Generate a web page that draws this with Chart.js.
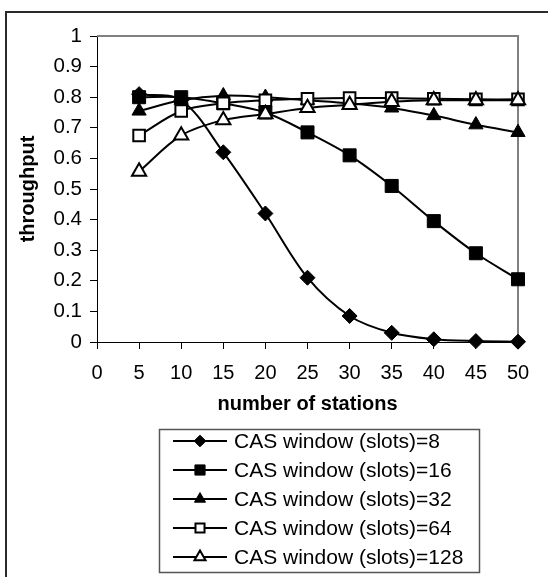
<!DOCTYPE html>
<html><head><meta charset="utf-8">
<script src="https://cdn.jsdelivr.net/npm/chart.js@4/dist/chart.umd.min.js"></script>
<style>html,body{margin:0;padding:0;background:#fff}canvas{display:block}</style>
</head><body>
<canvas id="c" width="548" height="577"></canvas>
<script>
// ---- data ----
const stations = [5, 10, 15, 20, 25, 30, 35, 40, 45, 50];
const seriesLabels = [
  'CAS window (slots)=8',
  'CAS window (slots)=16',
  'CAS window (slots)=32',
  'CAS window (slots)=64',
  'CAS window (slots)=128'
];
const cas8   = [0.81, 0.79, 0.62, 0.42, 0.21, 0.085, 0.03, 0.009, 0.003, 0.001];
const cas16  = [0.80, 0.80, 0.78, 0.75, 0.685, 0.61, 0.51, 0.395, 0.29, 0.205];
const cas32  = [0.755, 0.79, 0.805, 0.80, 0.79, 0.78, 0.765, 0.74, 0.71, 0.685];
const cas64  = [0.675, 0.755, 0.78, 0.79, 0.795, 0.797, 0.797, 0.795, 0.793, 0.793];
const cas128 = [0.557, 0.675, 0.725, 0.745, 0.765, 0.775, 0.785, 0.79, 0.79, 0.79];
const xTickValues = [0, 5, 10, 15, 20, 25, 30, 35, 40, 45, 50];
const yTickValues = [0, 0.1, 0.2, 0.3, 0.4, 0.5, 0.6, 0.7, 0.8, 0.9, 1];
const yTickLabels = ['0', '0.1', '0.2', '0.3', '0.4', '0.5', '0.6', '0.7', '0.8', '0.9', '1'];
const xTitle = 'number of stations';
const yTitle = 'throughput';

// ---- styles ----
const FONT = "'Liberation Sans', Arial, sans-serif";
Chart.defaults.font.family = FONT;
Chart.defaults.color = '#000';

const seriesValues = [cas8, cas16, cas32, cas64, cas128];
const markerStyles = [
  { pointStyle: 'rectRot', radius: 7.5, fill: '#000', bw: 1 },
  { pointStyle: 'rect', radius: 9.2, fill: '#000', bw: 1 },
  { pointStyle: 'triangle', radius: 8.2, fill: '#000', bw: 1 },
  { pointStyle: 'rect', radius: 8.2, fill: '#fff', bw: 2 },
  { pointStyle: 'triangle', radius: 8.2, fill: '#fff', bw: 2 }
];

const datasets = seriesValues.map((vals, i) => ({
  label: seriesLabels[i],
  data: stations.map((x, j) => ({ x: x, y: vals[j] })),
  borderColor: '#000',
  borderWidth: 2,
  tension: 0.33,
  pointStyle: markerStyles[i].pointStyle,
  pointRadius: markerStyles[i].radius,
  pointHoverRadius: markerStyles[i].radius,
  pointBackgroundColor: markerStyles[i].fill,
  pointBorderColor: '#000',
  pointBorderWidth: markerStyles[i].bw,
  clip: false,
  order: seriesValues.length - 1 - i
}));

const framePlugin = {
  id: 'frames',
  beforeDraw(chart) {
    const ctx = chart.ctx;
    ctx.save();
    ctx.fillStyle = '#fff';
    ctx.fillRect(0, 0, chart.width, chart.height);
    ctx.fillStyle = '#2a2a2a';
    ctx.fillRect(5, 11, chart.width - 5, 2);
    ctx.fillRect(5, 11, 2, chart.height - 11);
    ctx.restore();
  },
  beforeDatasetsDraw(chart) {
    const ctx = chart.ctx, a = chart.chartArea;
    ctx.save();
    ctx.strokeStyle = '#808080';
    ctx.lineWidth = 2;
    ctx.beginPath();
    ctx.moveTo(a.left, a.top);
    ctx.lineTo(a.right, a.top);
    ctx.lineTo(a.right, a.bottom);
    ctx.stroke();
    ctx.restore();
  }
};

const legendPlugin = {
  id: 'boxLegend',
  afterDraw(chart) {
    const ctx = chart.ctx;
    ctx.save();
    ctx.strokeStyle = '#555';
    ctx.lineWidth = 1.5;
    ctx.strokeRect(159.5, 429.5, 320, 143);
    chart.data.datasets.forEach((ds, i) => {
      const y = 441 + i * 29;
      ctx.strokeStyle = '#000';
      ctx.lineWidth = 2;
      ctx.beginPath();
      ctx.moveTo(173, y);
      ctx.lineTo(227, y);
      ctx.stroke();
      ctx.fillStyle = ds.pointBackgroundColor;
      ctx.strokeStyle = '#000';
      ctx.lineWidth = ds.pointBorderWidth;
      Chart.helpers.drawPoint(ctx, {
        pointStyle: ds.pointStyle,
        radius: ds.pointRadius * 0.78,
        rotation: 0,
        borderWidth: ds.pointBorderWidth
      }, 200, y);
      ctx.fillStyle = '#000';
      ctx.font = '21px ' + FONT;
      ctx.textBaseline = 'middle';
      ctx.textAlign = 'left';
      ctx.fillText(ds.label, 234, y + 1);
    });
    ctx.restore();
  }
};

new Chart(document.getElementById('c'), {
  type: 'line',
  data: { datasets: datasets },
  plugins: [framePlugin, legendPlugin],
  options: {
    responsive: false,
    animation: false,
    events: [],
    layout: { padding: { top: 36, right: 30, bottom: 155, left: 0 } },
    plugins: { legend: { display: false }, tooltip: { enabled: false } },
    scales: {
      x: {
        type: 'linear',
        min: 0, max: 50,
        afterBuildTicks: s => { s.ticks = xTickValues.map(v => ({ value: v })); },
        afterFit: s => { s.height = 80; },
        ticks: { font: { size: 20 }, color: '#000', padding: 12, maxRotation: 0, autoSkip: false },
        grid: { drawOnChartArea: false, drawTicks: true, tickLength: 7, color: '#000', lineWidth: 1 },
        border: { display: true, color: '#000', width: 1 },
        title: { display: true, text: xTitle, color: '#000', font: { size: 20, weight: 'bold' }, padding: { top: 0, bottom: 6 } }
      },
      y: {
        type: 'linear',
        min: 0, max: 1,
        afterBuildTicks: s => { s.ticks = yTickValues.map(v => ({ value: v })); },
        afterFit: s => { s.width = 97; },
        ticks: { font: { size: 20.5 }, color: '#000', padding: 8, autoSkip: false,
                 callback: (v, i) => yTickLabels[i] },
        grid: { drawOnChartArea: false, drawTicks: true, tickLength: 7, color: '#000', lineWidth: 1 },
        border: { display: true, color: '#000', width: 1 },
        title: { display: true, text: yTitle, color: '#000', font: { size: 20, weight: 'bold' }, padding: { top: 16, bottom: 0 } }
      }
    }
  }
});
</script>
</body></html>
